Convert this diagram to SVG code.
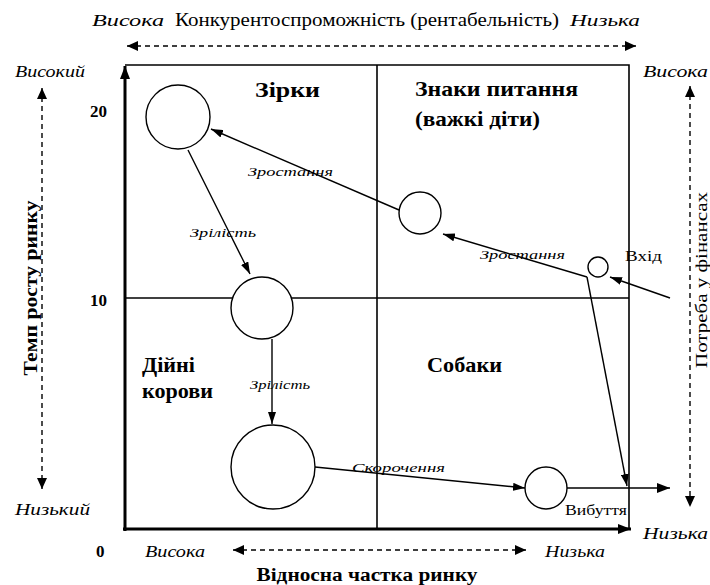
<svg xmlns="http://www.w3.org/2000/svg" width="710" height="585" viewBox="0 0 710 585">
<style>
.bg{fill:#fff}
.frame{fill:none;stroke:#000;stroke-width:1.6}
.axis{fill:none;stroke:#000;stroke-width:3}
.dash{fill:none;stroke:#000;stroke-width:1.4;stroke-dasharray:5 4}
.node{fill:#fff;stroke:#000;stroke-width:1.4}
.conn{fill:none;stroke:#000;stroke-width:1.4}
.t{font-family:"Liberation Serif","DejaVu Serif",serif;fill:#000}
.it{font-style:italic;font-size:17px}
.bq{font-weight:bold;font-size:21px}
.sm{font-style:italic;font-size:13px}
.rg{font-size:15px}
</style>
<defs>
<marker id="ah" markerWidth="12" markerHeight="8" refX="12" refY="4" orient="auto" markerUnits="userSpaceOnUse"><path d="M0,0 L12,4 L0,8 z" fill="#000"/></marker>
<marker id="ahd" markerWidth="12" markerHeight="10" refX="11" refY="5" orient="auto-start-reverse" markerUnits="userSpaceOnUse"><path d="M0,0 L11,5 L0,10 z" fill="#000"/></marker>
<marker id="ahx" markerWidth="14" markerHeight="10" refX="13" refY="5" orient="auto" markerUnits="userSpaceOnUse"><path d="M0,0 L13,5 L0,10 z" fill="#000"/></marker>
</defs>
<rect class="bg" x="0" y="0" width="710" height="585"/>

<g id="frame">
<path class="frame" d="M125,65 H629 V529"/>
<line class="frame" x1="377" y1="65" x2="377" y2="529"/>
<line class="frame" x1="125" y1="298" x2="629" y2="298"/>
<line class="axis" x1="125" y1="531" x2="125" y2="66" marker-end="url(#ahx)"/>
<line class="axis" x1="123" y1="529" x2="631" y2="529" marker-end="url(#ahx)"/>
</g>

<g id="axes-dashed">
<line class="dash" x1="127" y1="46" x2="636" y2="46" marker-start="url(#ahd)" marker-end="url(#ahd)"/>
<line class="dash" x1="42" y1="88" x2="42" y2="489" marker-start="url(#ahd)" marker-end="url(#ahd)"/>
<line class="dash" x1="690" y1="86" x2="690" y2="507" marker-start="url(#ahd)" marker-end="url(#ahd)"/>
<line class="dash" x1="233" y1="550" x2="526" y2="550" marker-start="url(#ahd)" marker-end="url(#ahd)"/>
</g>

<g id="axis-labels">
<text class="t it" x="92" y="26" textLength="72" lengthAdjust="spacingAndGlyphs">Висока</text>
<text class="t" x="175" y="26" font-size="18" textLength="384" lengthAdjust="spacingAndGlyphs">Конкурентоспроможність (рентабельність)</text>
<text class="t it" x="570" y="26" textLength="70" lengthAdjust="spacingAndGlyphs">Низька</text>
<text class="t it" x="15" y="77" textLength="70" lengthAdjust="spacingAndGlyphs">Високий</text>
<text class="t it" x="643" y="77" textLength="65" lengthAdjust="spacingAndGlyphs">Висока</text>
<text class="t it" x="15" y="515" textLength="75" lengthAdjust="spacingAndGlyphs">Низький</text>
<text class="t it" x="643" y="539" textLength="65" lengthAdjust="spacingAndGlyphs">Низька</text>
<text class="t it" x="145" y="557" textLength="60" lengthAdjust="spacingAndGlyphs">Висока</text>
<text class="t it" x="545" y="557" textLength="60" lengthAdjust="spacingAndGlyphs">Низька</text>
<text class="t" x="367" y="581" font-size="18" font-weight="bold" text-anchor="middle" textLength="221" lengthAdjust="spacingAndGlyphs">Відносна частка ринку</text>
<text class="t" x="90" y="117" font-size="17" font-weight="bold">20</text>
<text class="t" x="90" y="306" font-size="17" font-weight="bold">10</text>
<text class="t" x="96" y="557" font-size="17" font-weight="bold">0</text>
<text class="t" transform="translate(37,288) rotate(-90)" font-size="18" font-weight="bold" text-anchor="middle" textLength="175" lengthAdjust="spacingAndGlyphs">Темп росту ринку</text>
<text class="t" transform="translate(707,280) rotate(-90)" font-size="17" text-anchor="middle" textLength="176" lengthAdjust="spacingAndGlyphs">Потреба у фінансах</text>
</g>

<g id="quadrant-labels">
<text class="t bq" x="255" y="97" textLength="65" lengthAdjust="spacingAndGlyphs">Зірки</text>
<text class="t bq" x="415" y="96" textLength="163" lengthAdjust="spacingAndGlyphs">Знаки питання</text>
<text class="t bq" x="415" y="126" textLength="125" lengthAdjust="spacingAndGlyphs">(важкі діти)</text>
<text class="t bq" x="142" y="372" textLength="53" lengthAdjust="spacingAndGlyphs">Дійні</text>
<text class="t bq" x="142" y="398" textLength="71" lengthAdjust="spacingAndGlyphs">корови</text>
<text class="t bq" x="427" y="372" textLength="75" lengthAdjust="spacingAndGlyphs">Собаки</text>
</g>

<g id="connectors">
<line class="conn" x1="399" y1="210" x2="211" y2="129" marker-end="url(#ah)"/>
<line class="conn" x1="188" y1="150" x2="250" y2="274" marker-end="url(#ah)"/>
<line class="conn" x1="272" y1="339" x2="272" y2="424" marker-end="url(#ah)"/>
<line class="conn" x1="315" y1="467" x2="525" y2="488" marker-end="url(#ah)"/>
<line class="conn" x1="567" y1="488" x2="670" y2="488" stroke-width="2" marker-end="url(#ahx)"/>
<line class="conn" x1="587" y1="277" x2="443" y2="234" marker-end="url(#ah)"/>
<line class="conn" x1="587" y1="277" x2="627" y2="486" marker-end="url(#ah)"/>
<line class="conn" x1="670" y1="298" x2="610" y2="277" marker-end="url(#ah)"/>
<text class="t sm" x="248" y="176" textLength="85" lengthAdjust="spacingAndGlyphs">Зростання</text>
<text class="t sm" x="190" y="237" textLength="66" lengthAdjust="spacingAndGlyphs">Зрілість</text>
<text class="t sm" x="250" y="389" textLength="60" lengthAdjust="spacingAndGlyphs">Зрілість</text>
<text class="t sm" x="352" y="472" textLength="93" lengthAdjust="spacingAndGlyphs">Скорочення</text>
<text class="t sm" x="480" y="259" textLength="85" lengthAdjust="spacingAndGlyphs">Зростання</text>
<text class="t rg" x="625" y="261" textLength="37" lengthAdjust="spacingAndGlyphs">Вхід</text>
<text class="t rg" x="565" y="515" textLength="62" lengthAdjust="spacingAndGlyphs">Вибуття</text>
</g>

<g id="node-star"><circle class="node" cx="178" cy="117" r="32"/></g>
<g id="node-question-big"><circle class="node" cx="420" cy="213" r="21"/></g>
<g id="node-question-small"><circle class="node" cx="598" cy="267" r="10"/></g>
<g id="node-cow-top"><circle class="node" cx="262" cy="308" r="31"/></g>
<g id="node-cow-bottom"><circle class="node" cx="273" cy="467" r="42"/></g>
<g id="node-dog"><circle class="node" cx="546" cy="488" r="21"/></g>
</svg>
